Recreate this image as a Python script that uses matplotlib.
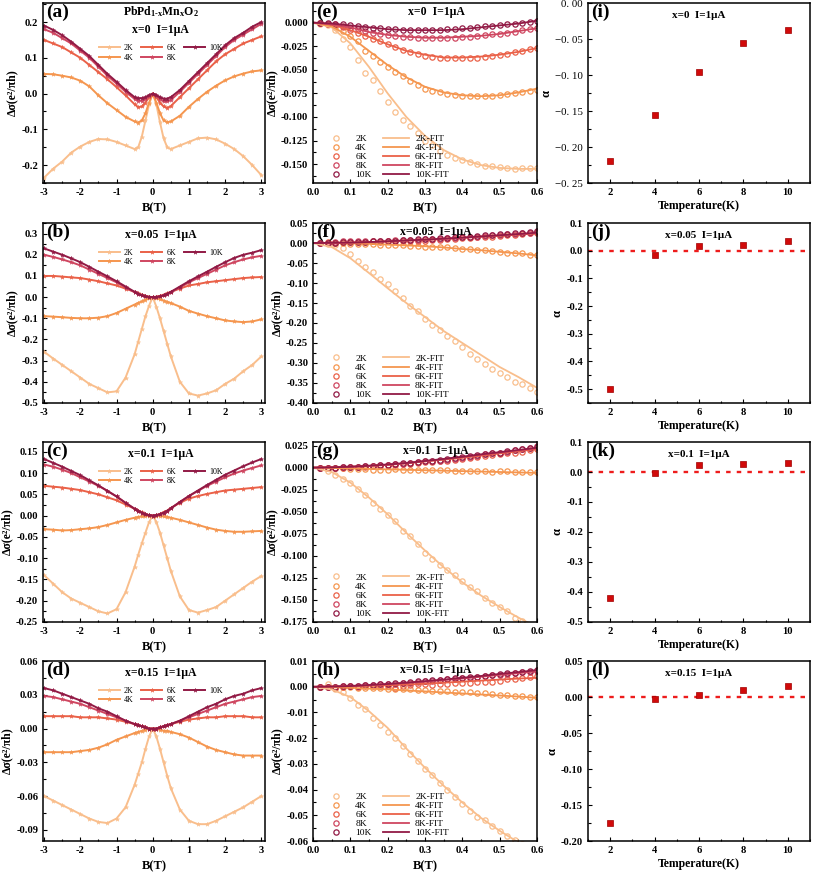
import matplotlib
matplotlib.use('Agg')
import matplotlib.pyplot as plt
from matplotlib.ticker import MultipleLocator, FuncFormatter, FormatStrFormatter

plt.rcParams['font.family'] = ['Liberation Serif', 'DejaVu Serif']
plt.rcParams['font.weight'] = 'bold'
plt.rcParams['axes.labelweight'] = 'bold'
plt.rcParams['mathtext.fontset'] = 'custom'
plt.rcParams['mathtext.rm'] = 'Liberation Serif:bold'
plt.rcParams['mathtext.it'] = 'Liberation Serif:bold'
plt.rcParams['mathtext.bf'] = 'Liberation Serif:bold'
plt.rcParams['axes.linewidth'] = 1.1
plt.rcParams['axes.unicode_minus'] = False

# ---------------- data ----------------
temps = ['2K', '4K', '6K', '8K', '10K']
colors = ['#F9BE8C', '#F5964F', '#EA6148', '#CF4660', '#921A45']

# left column: field sweep
B_left = [-3, -2.75, -2.5, -2.25, -2, -1.75, -1.5, -1.25, -1, -0.75, -0.5, -0.4, -0.3, -0.2, -0.1, 0,
          0.1, 0.2, 0.3, 0.4, 0.5, 0.75, 1, 1.25, 1.5, 1.75, 2, 2.25, 2.5, 2.75, 3]

a2 = [-0.235, -0.210, -0.190, -0.165, -0.148, -0.135, -0.127, -0.128, -0.135, -0.145, -0.155, -0.150, -0.120, -0.075, -0.030, 0.000,
      -0.030, -0.080, -0.125, -0.150, -0.155, -0.145, -0.135, -0.125, -0.123, -0.128, -0.140, -0.155, -0.175, -0.200, -0.228]
a4 = [0.055, 0.054, 0.050, 0.045, 0.036, 0.020, -0.005, -0.027, -0.046, -0.065, -0.078, -0.081, -0.075, -0.055, -0.025, 0.000,
      -0.025, -0.055, -0.075, -0.080, -0.078, -0.062, -0.037, -0.015, 0.005, 0.022, 0.037, 0.048, 0.056, 0.062, 0.065]
a6 = [0.150, 0.140, 0.130, 0.115, 0.100, 0.080, 0.060, 0.040, 0.018, -0.005, -0.030, -0.038, -0.036, -0.025, -0.010, 0.000,
      -0.010, -0.025, -0.036, -0.040, -0.035, -0.010, 0.015, 0.040, 0.065, 0.090, 0.110, 0.125, 0.140, 0.150, 0.160]
a8 = [0.180, 0.170, 0.155, 0.140, 0.120, 0.100, 0.075, 0.050, 0.028, 0.005, -0.015, -0.020, -0.020, -0.015, -0.006, 0.000,
      -0.006, -0.015, -0.022, -0.022, -0.018, 0.005, 0.030, 0.055, 0.080, 0.105, 0.130, 0.150, 0.165, 0.180, 0.195]
a10 = [0.190, 0.178, 0.163, 0.145, 0.125, 0.105, 0.080, 0.055, 0.033, 0.010, -0.010, -0.013, -0.013, -0.010, -0.004, 0.000,
       -0.004, -0.010, -0.014, -0.014, -0.010, 0.010, 0.035, 0.060, 0.085, 0.110, 0.135, 0.155, 0.170, 0.187, 0.200]

b2 = [-0.258, -0.290, -0.320, -0.350, -0.380, -0.410, -0.430, -0.450, -0.445, -0.380, -0.270, -0.210, -0.150, -0.090, -0.040, 0.000,
      -0.045, -0.100, -0.160, -0.220, -0.280, -0.400, -0.455, -0.465, -0.455, -0.440, -0.410, -0.385, -0.350, -0.320, -0.280]
b4 = [-0.090, -0.092, -0.095, -0.098, -0.100, -0.100, -0.097, -0.090, -0.075, -0.055, -0.035, -0.027, -0.020, -0.012, -0.005, 0.000,
      -0.004, -0.010, -0.016, -0.022, -0.028, -0.045, -0.065, -0.078, -0.090, -0.100, -0.110, -0.115, -0.118, -0.115, -0.105]
b6 = [0.100, 0.100, 0.097, 0.093, 0.090, 0.083, 0.075, 0.065, 0.055, 0.040, 0.025, 0.018, 0.012, 0.006, 0.002, 0.000,
      0.002, 0.006, 0.012, 0.018, 0.025, 0.040, 0.055, 0.062, 0.070, 0.075, 0.080, 0.085, 0.090, 0.093, 0.095]
b8 = [0.200, 0.190, 0.178, 0.165, 0.150, 0.130, 0.110, 0.090, 0.070, 0.045, 0.023, 0.015, 0.008, 0.003, 0.001, 0.000,
      0.001, 0.003, 0.008, 0.015, 0.023, 0.045, 0.070, 0.090, 0.110, 0.130, 0.150, 0.165, 0.178, 0.188, 0.195]
b10 = [0.230, 0.215, 0.200, 0.183, 0.165, 0.143, 0.120, 0.098, 0.075, 0.050, 0.025, 0.016, 0.008, 0.003, 0.001, 0.000,
       0.001, 0.003, 0.008, 0.016, 0.025, 0.050, 0.075, 0.098, 0.120, 0.143, 0.165, 0.185, 0.200, 0.210, 0.222]

c2 = [-0.140, -0.160, -0.180, -0.195, -0.205, -0.215, -0.225, -0.230, -0.220, -0.180, -0.120, -0.092, -0.065, -0.040, -0.015, 0.000,
      -0.015, -0.040, -0.070, -0.100, -0.130, -0.190, -0.222, -0.228, -0.222, -0.215, -0.200, -0.185, -0.170, -0.155, -0.142]
c4 = [-0.032, -0.033, -0.035, -0.034, -0.032, -0.030, -0.027, -0.022, -0.016, -0.010, -0.005, -0.003, -0.002, -0.001, 0.000, 0.000,
      0.000, -0.001, -0.002, -0.003, -0.005, -0.010, -0.016, -0.022, -0.028, -0.033, -0.036, -0.038, -0.038, -0.037, -0.036]
c6 = [0.070, 0.068, 0.066, 0.063, 0.060, 0.055, 0.050, 0.043, 0.036, 0.026, 0.016, 0.012, 0.008, 0.004, 0.001, 0.000,
      0.001, 0.004, 0.008, 0.012, 0.018, 0.030, 0.040, 0.046, 0.051, 0.055, 0.059, 0.061, 0.063, 0.065, 0.067]
c8 = [0.120, 0.115, 0.108, 0.100, 0.090, 0.080, 0.070, 0.058, 0.045, 0.030, 0.016, 0.011, 0.007, 0.003, 0.001, 0.000,
      0.001, 0.003, 0.007, 0.011, 0.017, 0.032, 0.046, 0.058, 0.070, 0.080, 0.090, 0.099, 0.106, 0.112, 0.118]
c10 = [0.133, 0.124, 0.115, 0.105, 0.095, 0.083, 0.071, 0.058, 0.045, 0.030, 0.016, 0.011, 0.007, 0.003, 0.001, 0.000,
       0.001, 0.003, 0.007, 0.011, 0.017, 0.032, 0.046, 0.059, 0.072, 0.084, 0.096, 0.106, 0.116, 0.125, 0.133]

d2 = [-0.060, -0.064, -0.068, -0.072, -0.076, -0.080, -0.083, -0.084, -0.080, -0.070, -0.050, -0.040, -0.030, -0.018, -0.007, 0.000,
      -0.007, -0.018, -0.030, -0.042, -0.053, -0.072, -0.082, -0.085, -0.085, -0.082, -0.078, -0.074, -0.070, -0.065, -0.060]
d4 = [-0.021, -0.021, -0.021, -0.021, -0.020, -0.019, -0.017, -0.014, -0.010, -0.007, -0.004, -0.003, -0.002, -0.001, 0.000, 0.000,
      0.000, -0.001, -0.002, -0.002, -0.003, -0.005, -0.008, -0.012, -0.016, -0.019, -0.021, -0.023, -0.024, -0.024, -0.024]
d6 = [0.011, 0.011, 0.011, 0.011, 0.010, 0.010, 0.010, 0.009, 0.008, 0.006, 0.004, 0.003, 0.002, 0.001, 0.000, 0.000,
      0.000, 0.001, 0.002, 0.003, 0.004, 0.006, 0.008, 0.009, 0.010, 0.010, 0.011, 0.011, 0.011, 0.010, 0.010]
d8 = [0.029, 0.028, 0.026, 0.024, 0.022, 0.019, 0.016, 0.013, 0.010, 0.007, 0.004, 0.003, 0.002, 0.001, 0.000, 0.000,
      0.000, 0.001, 0.002, 0.003, 0.004, 0.007, 0.010, 0.013, 0.016, 0.019, 0.022, 0.024, 0.026, 0.028, 0.029]
d10 = [0.036, 0.034, 0.031, 0.028, 0.025, 0.022, 0.018, 0.015, 0.011, 0.007, 0.004, 0.003, 0.002, 0.001, 0.000, 0.000,
       0.000, 0.001, 0.002, 0.003, 0.004, 0.007, 0.011, 0.015, 0.019, 0.022, 0.026, 0.029, 0.031, 0.034, 0.036]

# middle column: low field data (circles) and fits (lines)
B_mid = [0.02, 0.04, 0.06, 0.08, 0.10, 0.12, 0.14, 0.16, 0.18, 0.20, 0.22, 0.24, 0.26, 0.28, 0.30,
         0.32, 0.34, 0.36, 0.38, 0.40, 0.42, 0.44, 0.46, 0.48, 0.50, 0.52, 0.54, 0.56, 0.58, 0.60]
B_fit = [0.0, 0.05, 0.10, 0.15, 0.20, 0.25, 0.30, 0.35, 0.40, 0.45, 0.50, 0.55, 0.60]

e2 = [-0.001, -0.003, -0.008, -0.017, -0.026, -0.040, -0.053, -0.061, -0.072, -0.084, -0.095, -0.103, -0.110, -0.117, -0.125,
      -0.130, -0.136, -0.140, -0.143, -0.146, -0.148, -0.150, -0.152, -0.152, -0.153, -0.154, -0.155, -0.154, -0.154, -0.154]
e4 = [0.000, -0.002, -0.005, -0.009, -0.014, -0.020, -0.030, -0.035, -0.042, -0.047, -0.052, -0.057, -0.062, -0.066, -0.070,
      -0.072, -0.074, -0.076, -0.077, -0.078, -0.078, -0.078, -0.078, -0.078, -0.077, -0.076, -0.075, -0.074, -0.073, -0.071]
e6 = [0.000, -0.001, -0.003, -0.005, -0.008, -0.011, -0.014, -0.017, -0.020, -0.023, -0.026, -0.029, -0.031, -0.033, -0.035,
      -0.036, -0.037, -0.038, -0.038, -0.038, -0.037, -0.037, -0.036, -0.035, -0.034, -0.033, -0.031, -0.030, -0.028, -0.027]
e8 = [0.000, -0.001, -0.002, -0.004, -0.006, -0.007, -0.009, -0.011, -0.012, -0.013, -0.014, -0.015, -0.015, -0.016, -0.016,
      -0.016, -0.016, -0.016, -0.016, -0.015, -0.015, -0.014, -0.013, -0.012, -0.012, -0.011, -0.010, -0.008, -0.007, -0.006]
e10 = [0.000, 0.000, -0.001, -0.002, -0.003, -0.004, -0.005, -0.006, -0.006, -0.007, -0.007, -0.008, -0.008, -0.008, -0.008,
       -0.008, -0.008, -0.007, -0.007, -0.006, -0.006, -0.005, -0.004, -0.004, -0.003, -0.002, -0.001, 0.000, 0.001, 0.002]
ef2 = [0, -0.005, -0.022, -0.047, -0.075, -0.100, -0.120, -0.135, -0.145, -0.151, -0.154, -0.155, -0.155]
ef4 = [0, -0.004, -0.015, -0.030, -0.045, -0.058, -0.068, -0.074, -0.077, -0.078, -0.077, -0.074, -0.070]
ef6 = [0, -0.002, -0.008, -0.015, -0.023, -0.030, -0.034, -0.037, -0.037, -0.036, -0.034, -0.031, -0.027]
ef8 = [0, -0.002, -0.005, -0.010, -0.013, -0.015, -0.016, -0.016, -0.015, -0.014, -0.012, -0.009, -0.006]
ef10 = [0, -0.001, -0.003, -0.005, -0.007, -0.008, -0.008, -0.008, -0.007, -0.005, -0.003, -0.001, 0.002]

f2 = [0.000, -0.002, -0.006, -0.013, -0.027, -0.044, -0.059, -0.073, -0.089, -0.102, -0.119, -0.138, -0.157, -0.171, -0.189,
      -0.205, -0.218, -0.233, -0.245, -0.260, -0.278, -0.290, -0.302, -0.315, -0.325, -0.336, -0.348, -0.352, -0.362, -0.372]
f4 = [0.000, 0.000, -0.001, -0.001, -0.002, -0.002, -0.003, -0.003, -0.004, -0.005, -0.006, -0.006, -0.007, -0.008, -0.010,
      -0.010, -0.011, -0.010, -0.013, -0.015, -0.016, -0.018, -0.018, -0.020, -0.023, -0.025, -0.026, -0.026, -0.029, -0.031]
f6 = [0.000, 0.002, 0.001, 0.003, 0.002, 0.003, 0.003, 0.004, 0.003, 0.004, 0.005, 0.004, 0.005, 0.006, 0.006,
      0.008, 0.008, 0.009, 0.010, 0.012, 0.012, 0.014, 0.015, 0.016, 0.018, 0.019, 0.020, 0.022, 0.024, 0.026]
f8 = [0.000, 0.001, 0.003, 0.004, 0.005, 0.004, 0.005, 0.005, 0.006, 0.006, 0.007, 0.007, 0.008, 0.008, 0.009,
      0.010, 0.011, 0.012, 0.013, 0.014, 0.015, 0.016, 0.017, 0.019, 0.020, 0.022, 0.023, 0.025, 0.026, 0.028]
f10 = [0.000, 0.001, 0.001, 0.002, 0.002, 0.003, 0.003, 0.004, 0.005, 0.006, 0.006, 0.007, 0.008, 0.009, 0.010,
       0.011, 0.012, 0.013, 0.014, 0.015, 0.016, 0.018, 0.019, 0.020, 0.022, 0.023, 0.025, 0.026, 0.028, 0.030]
ff2 = [0, -0.010, -0.038, -0.075, -0.113, -0.150, -0.185, -0.220, -0.250, -0.280, -0.310, -0.335, -0.362]
ff4 = [0, 0.000, -0.001, -0.002, -0.004, -0.006, -0.008, -0.011, -0.015, -0.018, -0.022, -0.026, -0.031]
ff6 = [0, 0.0005, 0.001, 0.002, 0.004, 0.006, 0.008, 0.010, 0.013, 0.016, 0.018, 0.021, 0.024]
ff8 = [0, 0.0005, 0.001, 0.002, 0.004, 0.006, 0.008, 0.010, 0.013, 0.016, 0.019, 0.022, 0.025]
ff10 = [0, 0.0005, 0.0012, 0.0025, 0.0045, 0.0065, 0.0085, 0.011, 0.0135, 0.0165, 0.0195, 0.0225, 0.026]

g2 = [0.000, -0.004, -0.008, -0.013, -0.018, -0.024, -0.031, -0.040, -0.047, -0.054, -0.061, -0.072, -0.078, -0.087, -0.097,
      -0.104, -0.110, -0.116, -0.122, -0.128, -0.135, -0.140, -0.148, -0.154, -0.158, -0.163, -0.170, -0.174, -0.180, -0.186]
g4 = [0.000, -0.001, -0.001, -0.001, -0.002, -0.002, -0.002, -0.003, -0.003, -0.003, -0.002, -0.003, -0.003, -0.003, -0.003,
      -0.003, -0.003, -0.003, -0.004, -0.004, -0.004, -0.004, -0.004, -0.005, -0.004, -0.004, -0.005, -0.005, -0.005, -0.005]
g6 = [0.000, 0.000, 0.000, 0.000, 0.001, 0.001, 0.001, 0.002, 0.002, 0.003, 0.003, 0.004, 0.004, 0.005, 0.006,
      0.006, 0.007, 0.008, 0.009, 0.010, 0.011, 0.012, 0.013, 0.014, 0.015, 0.016, 0.017, 0.018, 0.020, 0.021]
g8 = [0.000, 0.000, 0.000, 0.001, 0.001, 0.001, 0.002, 0.002, 0.003, 0.003, 0.004, 0.004, 0.005, 0.006, 0.007,
      0.007, 0.008, 0.009, 0.010, 0.011, 0.012, 0.013, 0.015, 0.016, 0.017, 0.018, 0.020, 0.021, 0.022, 0.024]
g10 = [0.000, 0.000, 0.000, 0.001, 0.001, 0.001, 0.002, 0.002, 0.003, 0.003, 0.004, 0.005, 0.005, 0.006, 0.007,
       0.008, 0.009, 0.010, 0.011, 0.012, 0.013, 0.014, 0.015, 0.016, 0.017, 0.019, 0.020, 0.021, 0.022, 0.023]
gf2 = [0, -0.005, -0.017, -0.034, -0.053, -0.074, -0.094, -0.113, -0.130, -0.145, -0.158, -0.170, -0.181]
gf4 = [0, -0.0005, -0.001, -0.0015, -0.002, -0.0025, -0.003, -0.0035, -0.004, -0.0045, -0.005, -0.0055, -0.006]
gf6 = [0, 0.0003, 0.0008, 0.0018, 0.003, 0.0048, 0.007, 0.009, 0.011, 0.0135, 0.016, 0.0185, 0.021]
gf8 = [0, 0.0003, 0.0009, 0.002, 0.0033, 0.005, 0.0072, 0.0095, 0.012, 0.0145, 0.017, 0.0195, 0.022]
gf10 = [0, 0.0003, 0.001, 0.0021, 0.0035, 0.0052, 0.0075, 0.0098, 0.0123, 0.015, 0.0175, 0.020, 0.0225]

h2 = [0.000, 0.001, -0.001, -0.002, -0.0045, -0.007, -0.0085, -0.012, -0.015, -0.0175, -0.020, -0.023, -0.026, -0.029, -0.032,
      -0.0345, -0.0375, -0.040, -0.043, -0.0455, -0.0485, -0.0505, -0.052, -0.054, -0.056, -0.058, -0.0595, -0.061, -0.063, -0.065]
h4 = [0.000, 0.000, 0.000, -0.0001, -0.0002, -0.0003, -0.0004, -0.0005, -0.0006, -0.0007, -0.0008, -0.0009, -0.0010, -0.0012, -0.0014,
      -0.0015, -0.0016, -0.0017, -0.0019, -0.0020, -0.0022, -0.0024, -0.0026, -0.0028, -0.0030, -0.0032, -0.0034, -0.0036, -0.0038, -0.0040]
h6 = [0.000, 0.000, -0.0003, 0.000, 0.0002, -0.0002, 0.0003, 0.0005, 0.0002, 0.0004, -0.0003, 0.0005, 0.0008, 0.0010, 0.0010,
      0.0008, 0.0012, 0.0010, 0.0015, 0.0013, 0.0015, 0.0018, 0.0020, 0.0020, 0.0022, 0.0030, 0.0032, 0.0035, 0.0038, 0.0042]
h8 = [0.000, 0.000, 0.000, 0.0003, 0.0004, 0.0004, 0.0006, 0.0008, 0.0009, 0.0010, 0.0012, 0.0014, 0.0016, 0.0019, 0.0021,
      0.0024, 0.0026, 0.0029, 0.0031, 0.0034, 0.0036, 0.0039, 0.0042, 0.0045, 0.0047, 0.0050, 0.0053, 0.0056, 0.0058, 0.0060]
h10 = [0.000, 0.000, 0.000, 0.0003, 0.0004, 0.0005, 0.0006, 0.0008, 0.0010, 0.0012, 0.0014, 0.0016, 0.0018, 0.0021, 0.0023,
       0.0025, 0.0028, 0.0030, 0.0033, 0.0035, 0.0038, 0.0040, 0.0043, 0.0046, 0.0049, 0.0052, 0.0055, 0.0058, 0.0061, 0.0065]
hf2 = [0, -0.001, -0.004, -0.0095, -0.016, -0.024, -0.0315, -0.0385, -0.045, -0.051, -0.056, -0.0605, -0.064]
hf4 = [0, -0.0002, -0.0004, -0.0007, -0.001, -0.0014, -0.0018, -0.0022, -0.0026, -0.003, -0.0034, -0.0038, -0.0043]
hf6 = [0, 0.0001, 0.0002, 0.0004, 0.0006, 0.0009, 0.0012, 0.0016, 0.002, 0.0024, 0.0028, 0.0032, 0.0035]
hf8 = [0, 0.0001, 0.0003, 0.0006, 0.001, 0.0015, 0.002, 0.0026, 0.0032, 0.0039, 0.0046, 0.0053, 0.006]
hf10 = [0, 0.0001, 0.0003, 0.0007, 0.0011, 0.0016, 0.0022, 0.0028, 0.0035, 0.0042, 0.005, 0.0057, 0.0065]

# right column: alpha vs temperature
T_vals = [2, 4, 6, 8, 10]
alpha_x0 = [-0.219, -0.155, -0.096, -0.055, -0.037]
alpha_x005 = [-0.500, -0.015, 0.017, 0.022, 0.036]
alpha_x01 = [-0.420, -0.002, 0.024, 0.027, 0.030]
alpha_x015 = [-0.175, -0.003, 0.003, 0.010, 0.016]

x_labels = ['x=0', 'x=0.05', 'x=0.1', 'x=0.15']
left_sets = [[a2, a4, a6, a8, a10], [b2, b4, b6, b8, b10], [c2, c4, c6, c8, c10], [d2, d4, d6, d8, d10]]
mid_sets = [[e2, e4, e6, e8, e10], [f2, f4, f6, f8, f10], [g2, g4, g6, g8, g10], [h2, h4, h6, h8, h10]]
fit_sets = [[ef2, ef4, ef6, ef8, ef10], [ff2, ff4, ff6, ff8, ff10], [gf2, gf4, gf6, gf8, gf10], [hf2, hf4, hf6, hf8, hf10]]
alpha_sets = [alpha_x0, alpha_x005, alpha_x01, alpha_x015]

# ---------------- layout ----------------
fig = plt.figure(figsize=(8.13, 8.77), dpi=100)
row_bottoms = [0.7913, 0.5405, 0.2908, 0.0410]
row_h = 0.2052
col_left = [0.0529, 0.385, 0.7232]
col_w = [0.273, 0.2755, 0.273]

left_ylim = [(-0.25, 0.253), (-0.5, 0.35), (-0.25, 0.173), (-0.1, 0.06)]
left_major = [0.1, 0.1, 0.05, 0.03]
left_fmt = ['%.1f', '%.1f', '%.2f', '%.2f']
mid_ylim = [(-0.17, 0.0207), (-0.40, 0.05), (-0.175, 0.029), (-0.06, 0.01)]
mid_major = [0.025, 0.05, 0.025, 0.01]
mid_fmt = ['%.3f', '%.2f', '%.3f', '%.2f']
right_ylim = [(-0.25, 0.0), (-0.55, 0.1), (-0.5, 0.1), (-0.2, 0.05)]
right_major = [0.05, 0.1, 0.1, 0.05]
panel_letters = [('(a)', '(e)', '(i)'), ('(b)', '(f)', '(j)'), ('(c)', '(g)', '(k)'), ('(d)', '(h)', '(l)')]

TICK_FS = 7.6
ylab = 'Δσ(e²/πh)'
title_fs = 8.5
sq_color = '#D10A0A'


def style(ax):
    ax.tick_params(which='both', direction='in', top=False, right=False, labelsize=TICK_FS, width=0.8)
    ax.tick_params(which='major', length=3)
    ax.tick_params(which='minor', length=1.8)


def panel_label(ax, s):
    ax.text(0.015, 0.995, s, transform=ax.transAxes, ha='left', va='top', fontsize=14, fontweight='bold')


right_axes = []
for r in range(4):
    # ---- left column ----
    ax = fig.add_axes([col_left[0], row_bottoms[r], col_w[0], row_h])
    handles = []
    for i, t in enumerate(temps):
        h, = ax.plot(B_left, left_sets[r][i], '-', marker='*', ms=3.2, lw=1.4, color=colors[i],
                     mec=colors[i], mew=0.3, label=t)
        handles.append(h)
    ax.set_xlim(-3.03, 3.1)
    ax.set_ylim(*left_ylim[r])
    ax.xaxis.set_major_locator(MultipleLocator(1))
    ax.xaxis.set_minor_locator(MultipleLocator(0.5))
    ax.yaxis.set_major_locator(MultipleLocator(left_major[r]))
    ax.yaxis.set_minor_locator(MultipleLocator(left_major[r] / 2))
    ax.yaxis.set_major_formatter(FormatStrFormatter(left_fmt[r]))
    style(ax)
    ax.set_xlabel('B(T)', fontsize=9, labelpad=4)
    ax.set_ylabel(ylab, fontsize=8.5, labelpad=2)
    panel_label(ax, panel_letters[r][0])
    if r == 0:
        ax.text(0.53, 0.955, r'PbPd$_{1\text{-}x}$Mn$_x$O$_2$', transform=ax.transAxes, ha='center', va='center',
                fontsize=title_fs)
        ax.text(0.53, 0.85, x_labels[r] + '  I=1μA', transform=ax.transAxes, ha='center', va='center', fontsize=title_fs)
        leg_y = 0.80
    else:
        ax.text(0.53, 0.935, x_labels[r] + '  I=1μA', transform=ax.transAxes, ha='center', va='center', fontsize=title_fs)
        leg_y = 0.885
    ax.legend(handles=handles, loc='upper center', bbox_to_anchor=(0.53, leg_y), ncol=3, frameon=False,
              prop={'size': 5.8, 'weight': 'normal'}, handlelength=2.6, columnspacing=1.0, labelspacing=0.2,
              handletextpad=0.5, borderpad=0.1)

    # ---- middle column ----
    ax = fig.add_axes([col_left[1], row_bottoms[r], col_w[1], row_h])
    circ_h, line_h = [], []
    for i, t in enumerate(temps):
        h, = ax.plot(B_mid, mid_sets[r][i], 'o', ms=3.8, mfc='none', mec=colors[i], mew=0.9, label=t)
        circ_h.append(h)
    for i, t in enumerate(temps):
        h, = ax.plot(B_fit, fit_sets[r][i], '-', lw=1.3, color=colors[i], label=t + '-FIT')
        line_h.append(h)
    ax.set_xlim(0, 0.6)
    ax.set_ylim(*mid_ylim[r])
    ax.xaxis.set_major_locator(MultipleLocator(0.1))
    ax.xaxis.set_minor_locator(MultipleLocator(0.05))
    ax.xaxis.set_major_formatter(FormatStrFormatter('%.1f'))
    ax.yaxis.set_major_locator(MultipleLocator(mid_major[r]))
    ax.yaxis.set_minor_locator(MultipleLocator(mid_major[r] / 2))
    ax.yaxis.set_major_formatter(FormatStrFormatter(mid_fmt[r]))
    style(ax)
    ax.set_xlabel('B(T)', fontsize=9, labelpad=4)
    ax.set_ylabel(ylab, fontsize=8.5, labelpad=2)
    panel_label(ax, panel_letters[r][1])
    ax.text(0.55, 0.95, x_labels[r] + '  I=1μA', transform=ax.transAxes, ha='center', va='center', fontsize=title_fs)
    ax.legend(handles=circ_h + line_h, loc='lower left', bbox_to_anchor=(0.02, -0.01), ncol=2, frameon=False,
              prop={'size': 6.8, 'weight': 'normal'}, handlelength=2.8, columnspacing=1.2, labelspacing=0.05,
              handletextpad=0.6, borderpad=0.1)

    # ---- right column ----
    ax = fig.add_axes([col_left[2], row_bottoms[r], col_w[2], row_h])
    right_axes.append(ax)
    if r > 0:
        ax.axhline(0, color='#EE1C1C', lw=1.7, ls=(0, (1.9, 2.6)), zorder=1)
    ax.plot(T_vals, alpha_sets[r], 's', ms=4.8, color=sq_color, mec='#A00000', mew=0.5, zorder=3)
    ax.set_xlim(1.0, 11.0)
    ax.set_ylim(*right_ylim[r])
    ax.xaxis.set_major_locator(MultipleLocator(2))
    ax.xaxis.set_minor_locator(MultipleLocator(1))
    ax.yaxis.set_major_locator(MultipleLocator(right_major[r]))
    ax.yaxis.set_minor_locator(MultipleLocator(right_major[r] / 2))
    style(ax)
    if r == 0:
        ax.yaxis.set_major_formatter(FuncFormatter(
            lambda v, p: ('%.2f' % v).replace('-', '\u2212').replace('.', '. ')))
    else:
        ax.yaxis.set_major_formatter(FormatStrFormatter('%.1f' if right_major[r] == 0.1 else '%.2f'))
    ax.set_xlabel('Temperature(K)', fontsize=8.5, labelpad=2)
    ax.set_ylabel('α', fontsize=9, labelpad=2)
    panel_label(ax, panel_letters[r][2])
    ax.text(0.5, 0.93, x_labels[r] + '  I=1μA', transform=ax.transAxes, ha='center', va='center', fontsize=8)

# (i): y tick labels in a plain (non-bold) face like the reference
fig.canvas.draw()
for lab in right_axes[0].yaxis.get_majorticklabels():
    lab.set_fontweight('normal')
    lab.set_fontsize(7.8)

fig.savefig('out.png', dpi=100)
